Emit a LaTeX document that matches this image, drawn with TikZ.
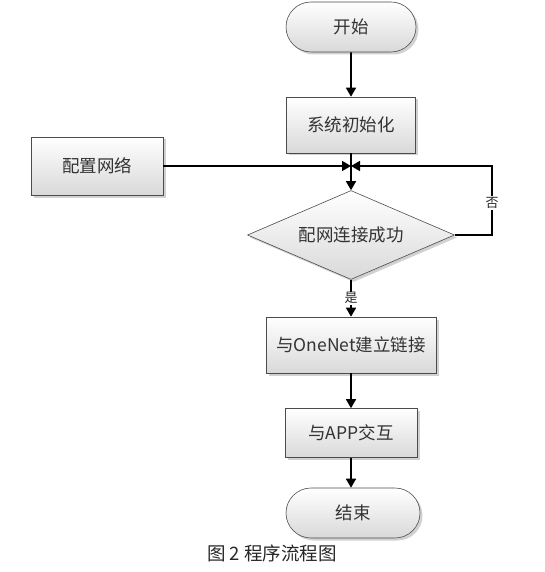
\documentclass[tikz,border=0pt]{standalone}
\usepackage{fontspec}
\setmainfont{Noto Sans CJK SC}
\usetikzlibrary{arrows.meta,shapes.geometric,shapes.misc,shadows}
\begin{document}
\begin{tikzpicture}[x=1pt,y=-1pt,
  base/.style={draw=gray!60!black, line width=0.6pt, top color=white, bottom color=gray!30,
    drop shadow={shadow xshift=2.5pt, shadow yshift=-2.5pt, fill=gray!60, opacity=0.6},
    font=\fontsize{17.5}{17.5}\selectfont, text=black!80, inner sep=0pt},
  procbox/.style={base, rectangle},
  termbox/.style={base, rounded rectangle},
  decbox/.style={base, diamond, aspect=2.33},
  arr/.style={line width=1.6pt, -{Triangle[length=9pt,width=10pt]}},
  lbl/.style={fill=white, inner sep=1pt, font=\fontsize{13}{13}\selectfont, text=black!85}
]
\useasboundingbox (0,0) rectangle (545,572);
\node[termbox, minimum width=130pt, minimum height=50pt] (start) at (351,27) {开始};
\node[procbox, minimum width=129pt, minimum height=56pt] (init) at (351,125) {系统初始化};
\node[procbox, minimum width=132pt, minimum height=58pt] (cfg) at (97,166) {配置网络};
\node[decbox, minimum width=207pt, minimum height=89pt] (dec) at (351,235) {配网连接成功};
\node[procbox, minimum width=170pt, minimum height=56pt] (conn) at (351,345) {与OneNet建立链接};
\node[procbox, minimum width=132pt, minimum height=49pt] (app) at (351,433) {与APP交互};
\node[termbox, minimum width=134pt, minimum height=50pt] (stop) at (353,513) {结束};
\node[font=\fontsize{18.5}{18.5}\selectfont, text=black!85] (cap) at (272,553) {图 2 程序流程图};
\coordinate (j) at (351,166);
\coordinate (r) at (492,235);
\draw[arr] (start) -- (init);
\draw[arr] (init.south) -- (dec.north);
\draw[arr] (cfg.east) -- (j);
\draw[arr] (dec.east) -- (r) |- (j);
\node[lbl] (no) at (492,203) {否};
\draw[arr] (dec.south) -- node[lbl] (yes) {是} (conn.north);
\draw[arr] (conn) -- (app);
\draw[arr] (app) -- (app |- stop.north);
\end{tikzpicture}
\end{document}
